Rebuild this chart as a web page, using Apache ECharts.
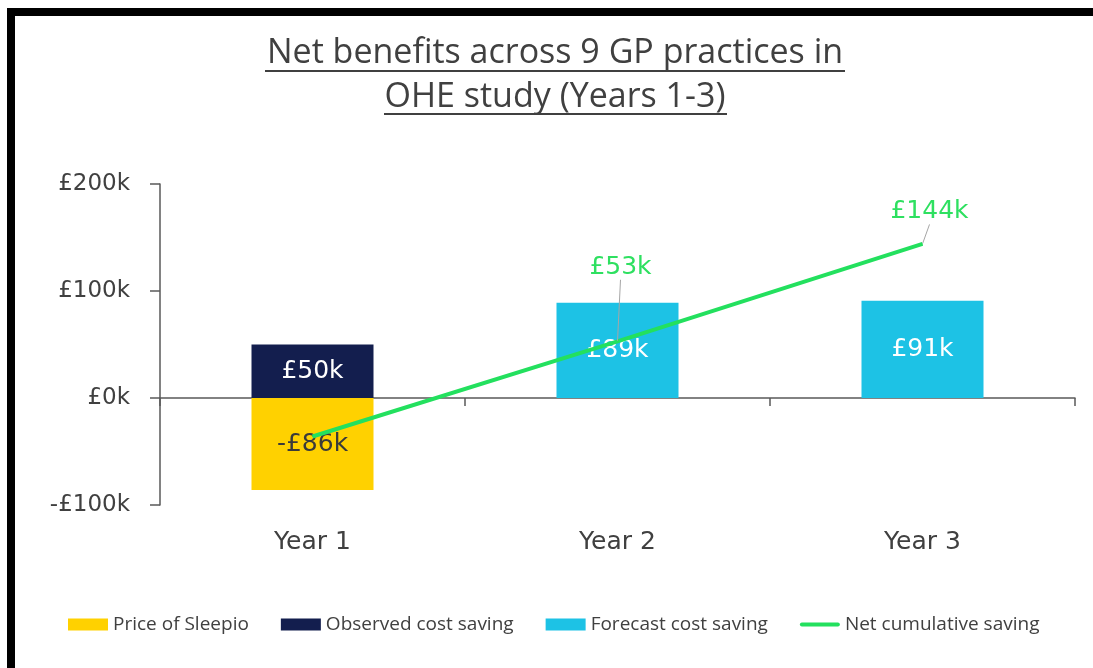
<!DOCTYPE html>
<html>
<head>
<meta charset="utf-8">
<script src="https://cdn.jsdelivr.net/npm/echarts@6/dist/echarts.min.js"></script>
<style>
  html, body { margin: 0; padding: 0; background: #fff; }
  #chart { width: 1093px; height: 668px; }
</style>
</head>
<body>
<div id="chart"></div>
<script>
  // data (values in £k)
  const years = ['Year 1', 'Year 2', 'Year 3'];
  const priceOfSleepio = [-86, null, null];
  const observedSaving = [50, null, null];
  const forecastSaving = [null, 89, 91];
  const netCumulative = [-36, 53, 144];
  const yTicks = { min: -100, max: 200, interval: 100 };

  const axisFont = 'DejaVu Sans';
  const narrowFont = '"Open Sans", sans-serif';
  const textGrey = '#404040';
  const green = '#23E05E';

  const money = v => (v < 0 ? '-£' + Math.abs(v) : '£' + v) + 'k';

  const chart = echarts.init(document.getElementById('chart'));

  const barLabel = color => ({
    show: true,
    position: 'inside',
    color: color,
    fontFamily: axisFont,
    fontSize: 25,
    formatter: p => money(p.value)
  });

  const option = {
    animation: false,
    backgroundColor: '#fff',
    grid: { left: 160, right: 18, top: 184, bottom: 163 },
    legend: {
      left: 63,
      top: 610,
      itemWidth: 40,
      itemHeight: 12,
      itemGap: 32,
      textStyle: { fontFamily: narrowFont, fontSize: 19, color: textGrey },
      data: [
        { name: 'Price of Sleepio', icon: 'rect' },
        { name: 'Observed cost saving', icon: 'rect' },
        { name: 'Forecast cost saving', icon: 'rect' },
        { name: 'Net cumulative saving', icon: 'path://M2,0 L38,0 A2,2 0 0 1 38,4 L2,4 A2,2 0 0 1 2,0 Z' }
      ]
    },
    xAxis: [
      {
        type: 'category',
        data: years,
        axisLine: { onZero: true, lineStyle: { color: '#595959', width: 1.5 } },
        axisTick: { show: true, length: 8, lineStyle: { color: '#595959', width: 1.5 } },
        axisLabel: { show: false }
      },
      {
        type: 'category',
        data: years,
        position: 'bottom',
        axisLine: { show: false, onZero: false },
        axisTick: { show: false },
        axisLabel: { margin: 25, color: textGrey, fontFamily: axisFont, fontSize: 25 }
      }
    ],
    yAxis: {
      type: 'value',
      min: yTicks.min,
      max: yTicks.max,
      interval: yTicks.interval,
      axisLine: { show: true, lineStyle: { color: '#595959', width: 1.5 } },
      axisTick: { show: true, length: 10, lineStyle: { color: '#595959', width: 1.5 } },
      splitLine: { show: false },
      axisLabel: {
        margin: 30,
        color: textGrey,
        fontFamily: axisFont,
        fontSize: 23,
        formatter: money
      }
    },
    series: [
      {
        name: 'Price of Sleepio',
        type: 'bar',
        stack: 'total',
        barWidth: '40%',
        data: priceOfSleepio,
        itemStyle: { color: '#FFD100' },
        label: barLabel('#3a3a3a')
      },
      {
        name: 'Observed cost saving',
        type: 'bar',
        stack: 'total',
        data: observedSaving,
        itemStyle: { color: '#131E4E' },
        label: barLabel('#ffffff')
      },
      {
        name: 'Forecast cost saving',
        type: 'bar',
        stack: 'total',
        data: forecastSaving,
        itemStyle: { color: '#1DC2E5' },
        label: barLabel('#ffffff')
      },
      {
        name: 'Net cumulative saving',
        type: 'line',
        z: 5,
        data: netCumulative.map((v, i) => ({ value: v, label: { show: i > 0 } })),
        symbol: 'circle',
        symbolSize: 1,
        showSymbol: true,
        lineStyle: { color: green, width: 4 },
        itemStyle: { color: green },
        label: {
          show: true,
          position: 'top',
          color: '#2EE060',
          fontFamily: axisFont,
          fontSize: 25,
          formatter: p => money(p.value)
        },
        labelLine: { show: true, lineStyle: { color: '#A6A6A6', width: 1 } },
        labelLayout: p => (p.dataIndex === 1 ? { dx: 3, dy: -56 } : { dx: 7, dy: -14 })
      }
    ],
    graphic: [
      { type: 'rect', shape: { x: 7, y: 8, width: 1086, height: 8 }, style: { fill: '#000' } },
      { type: 'rect', shape: { x: 7, y: 8, width: 8, height: 660 }, style: { fill: '#000' } },
      {
        type: 'text', x: 555, y: 53,
        style: {
          text: 'Net benefits across 9 GP practices in',
          fill: textGrey, font: '34px ' + narrowFont, align: 'center', verticalAlign: 'middle'
        }
      },
      {
        type: 'text', x: 555, y: 97,
        style: {
          text: 'OHE study (Years 1-3)',
          fill: textGrey, font: '34px ' + narrowFont, align: 'center', verticalAlign: 'middle'
        }
      },
      { type: 'line', shape: { x1: 265, y1: 71, x2: 845, y2: 71 }, style: { stroke: textGrey, lineWidth: 2 } },
      { type: 'line', shape: { x1: 384, y1: 114, x2: 727, y2: 114 }, style: { stroke: textGrey, lineWidth: 2 } }
    ]
  };

  chart.setOption(option);
</script>
</body>
</html>
